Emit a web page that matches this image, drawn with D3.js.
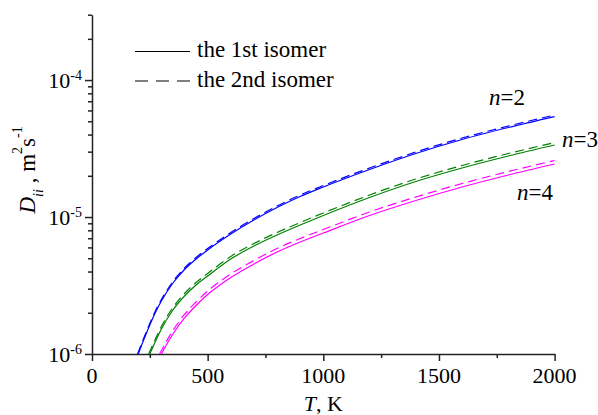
<!DOCTYPE html>
<html>
<head>
<meta charset="utf-8">
<script src="https://cdn.jsdelivr.net/npm/d3@7"></script>
<style>
  body { margin: 0; background: #fff; }
  text { font-family: "Liberation Serif", "Times New Roman", serif; fill: #000; }
  .axis path, .axis line { stroke: #222; stroke-width: 1.5; }
</style>
</head>
<body>
<svg id="chart" width="598" height="415"></svg>
<script>
// ---- data ----
var T_n2_1 = [200, 225, 250, 275, 300, 350, 400, 450, 500, 600, 700, 800, 900, 1000, 1200, 1400, 1600, 1800, 2000];
var D_n2_1 = [1.00e-6, 1.287e-6, 1.628e-6, 2.026e-6, 2.437e-6, 3.298e-6, 4.139e-6, 4.936e-6, 5.743e-6, 7.515e-6, 9.51e-6, 1.173e-5, 1.411e-5, 1.656e-5, 2.222e-5, 2.908e-5, 3.679e-5, 4.501e-5, 5.415e-5];
var T_n2_2 = [197, 225, 250, 275, 300, 350, 400, 450, 500, 600, 700, 800, 900, 1000, 1200, 1400, 1600, 1800, 2000];
var D_n2_2 = [1.00e-6, 1.319e-6, 1.669e-6, 2.077e-6, 2.498e-6, 3.380e-6, 4.242e-6, 5.059e-6, 5.886e-6, 7.703e-6, 9.75e-6, 1.203e-5, 1.447e-5, 1.698e-5, 2.279e-5, 2.982e-5, 3.773e-5, 4.616e-5, 5.553e-5];

var T_n3_1 = [250, 275, 300, 350, 400, 450, 500, 600, 700, 800, 900, 1000, 1200, 1400, 1600, 1800, 2000];
var D_n3_1 = [1.00e-6, 1.244e-6, 1.522e-6, 2.096e-6, 2.651e-6, 3.189e-6, 3.710e-6, 4.936e-6, 6.143e-6, 7.39e-6, 8.74e-6, 1.026e-5, 1.388e-5, 1.816e-5, 2.279e-5, 2.788e-5, 3.354e-5];
var T_n3_2 = [245, 275, 300, 350, 400, 450, 500, 600, 700, 800, 900, 1000, 1200, 1400, 1600, 1800, 2000];
var D_n3_2 = [1.00e-6, 1.297e-6, 1.588e-6, 2.186e-6, 2.765e-6, 3.326e-6, 3.870e-6, 5.148e-6, 6.407e-6, 7.71e-6, 9.12e-6, 1.070e-5, 1.448e-5, 1.894e-5, 2.377e-5, 2.908e-5, 3.498e-5];

var T_n4_1 = [300, 325, 350, 400, 450, 500, 550, 600, 700, 800, 900, 1000, 1200, 1400, 1600, 1800, 2000];
var D_n4_1 = [1.00e-6, 1.193e-6, 1.400e-6, 1.832e-6, 2.259e-6, 2.719e-6, 3.162e-6, 3.617e-6, 4.539e-6, 5.553e-6, 6.571e-6, 7.642e-6, 1.026e-5, 1.320e-5, 1.656e-5, 2.026e-5, 2.437e-5];
var T_n4_2 = [292, 325, 350, 400, 450, 500, 550, 600, 700, 800, 900, 1000, 1200, 1400, 1600, 1800, 2000];
var D_n4_2 = [1.00e-6, 1.265e-6, 1.485e-6, 1.943e-6, 2.396e-6, 2.883e-6, 3.354e-6, 3.836e-6, 4.814e-6, 5.890e-6, 6.969e-6, 8.105e-6, 1.088e-5, 1.400e-5, 1.756e-5, 2.149e-5, 2.585e-5];

var xMajor = [0, 500, 1000, 1500, 2000];
var xMinor = [250, 750, 1250, 1750];
var yMajor = [1e-6, 1e-5, 1e-4];
var yMajorExp = ["-6", "-5", "-4"];
var yMinor = [2e-6, 3e-6, 4e-6, 5e-6, 6e-6, 7e-6, 8e-6, 9e-6,
              2e-5, 3e-5, 4e-5, 5e-5, 6e-5, 7e-5, 8e-5, 9e-5, 2e-4, 3e-4];

var legendLabels = ["the 1st isomer", "the 2nd isomer"];
var seriesLabels = ["n=2", "n=3", "n=4"];
var colors = ["#0000ff", "#008000", "#ff00ff"];

// ---- layout ----
var svg = d3.select("#chart");
var plotLeft = 92, plotRight = 554.6, plotTop = 14.7, plotBottom = 354;

var x = d3.scaleLinear().domain([0, 2000]).range([plotLeft, plotRight]);
var y = d3.scaleLog().domain([1e-6, 3e-4]).range([plotBottom, plotTop]);

// axes
var gx = svg.append("g").attr("class", "axis")
    .attr("transform", "translate(0," + plotBottom + ")");
gx.call(d3.axisBottom(x).tickValues(xMajor).tickSize(7).tickSizeOuter(0).tickFormat(""));
gx.append("g").call(d3.axisBottom(x).tickValues(xMinor).tickSize(4).tickSizeOuter(0).tickFormat(""))
    .select(".domain").remove();
gx.selectAll(".xlab").data(xMajor).enter().append("text")
    .attr("class", "xlab")
    .attr("x", d => x(d))
    .attr("y", 29)
    .attr("text-anchor", "middle")
    .style("font-size", "22px")
    .text(d => d);

var gy = svg.append("g").attr("class", "axis")
    .attr("transform", "translate(" + plotLeft + ",0)");
gy.call(d3.axisLeft(y).tickValues(yMajor).tickSize(7).tickSizeOuter(0).tickFormat(""));
gy.append("g").call(d3.axisLeft(y).tickValues(yMinor).tickSize(4).tickSizeOuter(0).tickFormat(""))
    .select(".domain").remove();
var ylab = gy.selectAll(".ylab").data(yMajor).enter().append("text")
    .attr("class", "ylab")
    .attr("x", -10)
    .attr("y", d => y(d) + 8)
    .attr("text-anchor", "end")
    .style("font-size", "22px");
ylab.append("tspan").text("10");
ylab.append("tspan").attr("dy", -8).style("font-size", "14px").text((d, i) => yMajorExp[i]);

// axis titles
var xt = svg.append("text")
    .attr("x", x(1000))
    .attr("y", 411)
    .attr("text-anchor", "middle")
    .style("font-size", "22px");
xt.append("tspan").style("font-style", "italic").text("T");
xt.append("tspan").text(", K");

var yt = svg.append("text")
    .attr("transform", "translate(35,213.5) rotate(-90)")
    .style("font-size", "23px");
yt.append("tspan").style("font-style", "italic").text("D");
yt.append("tspan").style("font-style", "italic").style("font-size", "14px").attr("dy", 8).text("ii");
yt.append("tspan").attr("dy", -8).text(" , m");
yt.append("tspan").style("font-size", "14px").attr("dy", -13).text("2");
yt.append("tspan").attr("dy", 13).text("s");
yt.append("tspan").style("font-size", "14px").attr("dy", -13).text("-1");

// curves
var line = d3.line()
    .x(d => x(d[0]))
    .y(d => y(d[1]))
    .curve(d3.curveMonotoneX);

var series = [
    [T_n2_1, D_n2_1, 0, false], [T_n2_2, D_n2_2, 0, true],
    [T_n3_1, D_n3_1, 1, false], [T_n3_2, D_n3_2, 1, true],
    [T_n4_1, D_n4_1, 2, false], [T_n4_2, D_n4_2, 2, true]
];

svg.append("g").selectAll("path")
    .data(series)
    .enter()
    .append("path")
    .attr("d", s => line(d3.zip(s[0], s[1])))
    .attr("fill", "none")
    .attr("stroke", s => colors[s[2]])
    .attr("stroke-width", 1.2)
    .attr("stroke-dasharray", s => s[3] ? "9,5" : null);

// curve labels
var labPos = [[489, 105], [562, 147], [517, 200]];
var nl = svg.append("g").selectAll("text")
    .data(seriesLabels)
    .enter()
    .append("text")
    .attr("x", (d, i) => labPos[i][0])
    .attr("y", (d, i) => labPos[i][1])
    .style("font-size", "23px");
nl.append("tspan").style("font-style", "italic").text("n");
nl.append("tspan").text(d => d.slice(1));

// legend
var legend = svg.append("g").selectAll("g")
    .data(legendLabels)
    .enter()
    .append("g")
    .attr("transform", (d, i) => "translate(0," + (51.5 + i * 29.5) + ")");
legend.append("line")
    .attr("x1", 135).attr("x2", 190)
    .attr("stroke", "#000")
    .attr("stroke-width", 1.2)
    .attr("stroke-dasharray", (d, i) => i ? "13,8" : null);
legend.append("text")
    .attr("x", 197)
    .attr("y", 5.5)
    .style("font-size", "23px")
    .text(d => d);
</script>
</body>
</html>
